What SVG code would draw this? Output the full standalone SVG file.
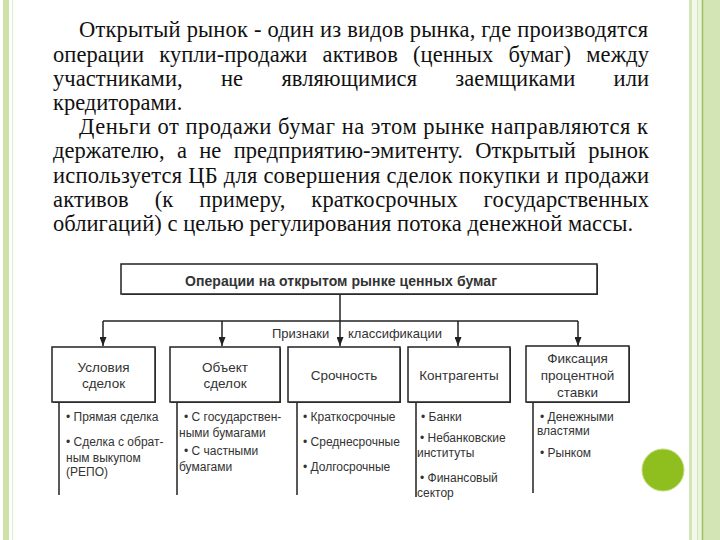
<svg xmlns="http://www.w3.org/2000/svg" width="720" height="540" viewBox="0 0 720 540">
<style>
.p{font-family:"Liberation Serif","Times New Roman",serif;font-size:22.5px;fill:#111}
.box{fill:#fff;stroke:#222;stroke-width:1.5}
.sh{fill:#444}
.t{font-family:"Liberation Sans",Arial,sans-serif;fill:#333}
.hd{font-size:13.5px;text-anchor:middle}
.li{font-size:12px}
.ln{stroke:#222;stroke-width:1.5;fill:none}
</style>
<defs>
<marker id="ar" viewBox="0 0 9 7" refX="9" refY="3.5" markerWidth="9" markerHeight="7" markerUnits="userSpaceOnUse" orient="auto">
<path d="M0,0 L9,3.5 L0,7 z" fill="#222"/>
</marker>
</defs>
<rect width="720" height="540" fill="#fff"/>
<g id="frame">
<rect x="3" y="0" width="6" height="540" fill="#cfe0a8"/>
<rect x="12" y="0" width="1.2" height="540" fill="#e3eed6"/>
<rect x="689" y="0" width="31" height="540" fill="#d3e5b4"/>
<rect x="692" y="0" width="5" height="540" fill="#f1f8ea"/>
<rect x="698" y="0" width="3" height="540" fill="#eaf4df"/>
<rect x="702" y="0" width="1.3" height="540" fill="#a3c266"/>
<circle cx="663" cy="470" r="21" fill="#8fbf1f" stroke="#c2dc7a" stroke-width="1"/>
</g>
<g id="paragraph">
<text class="p" x="79" y="37" textLength="569" lengthAdjust="spacing">Открытый рынок - один из видов рынка, где производятся</text>
<text class="p" x="53" y="62" word-spacing="9.5" textLength="596" lengthAdjust="spacing">операции купли-продажи активов (ценных бумаг) между</text>
<text class="p" x="53" y="86" word-spacing="32.6" textLength="596" lengthAdjust="spacing">участниками, не являющимися заемщиками или</text>
<text class="p" x="53" y="110">кредиторами.</text>
<text class="p" x="79" y="134" textLength="569" lengthAdjust="spacing">Деньги от продажи бумаг на этом рынке направляются к</text>
<text class="p" x="53" y="158" word-spacing="6.6" textLength="596" lengthAdjust="spacing">держателю, а не предприятию-эмитенту. Открытый рынок</text>
<text class="p" x="53" y="183" textLength="596" lengthAdjust="spacing">используется ЦБ для совершения сделок покупки и продажи</text>
<text class="p" x="53" y="207" word-spacing="20.1" textLength="596" lengthAdjust="spacing">активов (к примеру, краткосрочных государственных</text>
<text class="p" x="53" y="231" textLength="580" lengthAdjust="spacing">облигаций) с целью регулирования потока денежной массы.</text>
</g>
<g id="connectors">
<path class="ln" d="M340,295 V346" marker-end="url(#ar)"/>
<path class="ln" d="M103,321 H578"/>
<path class="ln" d="M103,321 V346" marker-end="url(#ar)"/>
<path class="ln" d="M222,321 V346" marker-end="url(#ar)"/>
<path class="ln" d="M458,321 V346" marker-end="url(#ar)"/>
<path class="ln" d="M578,321 V346" marker-end="url(#ar)"/>
<path class="ln" d="M59,403 V495 M177,403 V495 M297,403 V495 M416,403 V497 M533,403 V493"/>
</g>
<g id="root">
<rect class="sh" x="122" y="265" width="476" height="30"/>
<rect class="box" x="121" y="264" width="476" height="30"/>
<text class="t" x="341" y="286" font-size="14" font-weight="bold" text-anchor="middle" fill="#222" textLength="312" lengthAdjust="spacing">Операции на открытом рынке ценных бумаг</text>
</g>
<g id="label">
<text class="t" x="272" y="338" font-size="13">Признаки</text>
<text class="t" x="348" y="338" font-size="13">классификации</text>
</g>
<g id="n1">
<rect class="sh" x="53" y="348" width="103" height="55"/>
<rect class="box" x="52" y="347" width="103" height="55"/>
<text class="t hd" x="103.5" y="372">Условия</text>
<text class="t hd" x="103.5" y="388">сделок</text>
<text class="t li" x="66" y="421">• Прямая сделка</text>
<text class="t li" x="66" y="446">• Сделка с обрат-</text>
<text class="t li" x="66" y="462">ным выкупом</text>
<text class="t li" x="66" y="476">(РЕПО)</text>
</g>
<g id="n2">
<rect class="sh" x="171" y="348" width="110" height="55"/>
<rect class="box" x="170" y="347" width="110" height="55"/>
<text class="t hd" x="225" y="372">Объект</text>
<text class="t hd" x="225" y="388">сделок</text>
<text class="t li" x="184" y="421">• С государствен-</text>
<text class="t li" x="179" y="437">ными бумагами</text>
<text class="t li" x="184" y="455">• С частными</text>
<text class="t li" x="179" y="471">бумагами</text>
</g>
<g id="n3">
<rect class="sh" x="289" y="348" width="112" height="55"/>
<rect class="box" x="288" y="347" width="112" height="55"/>
<text class="t hd" x="344" y="380">Срочность</text>
<text class="t li" x="303" y="421">• Краткосрочные</text>
<text class="t li" x="303" y="446">• Среднесрочные</text>
<text class="t li" x="303" y="471">• Долгосрочные</text>
</g>
<g id="n4">
<rect class="sh" x="409" y="348" width="102" height="55"/>
<rect class="box" x="408" y="347" width="102" height="55"/>
<text class="t hd" x="459" y="380">Контрагенты</text>
<text class="t li" x="421" y="421">• Банки</text>
<text class="t li" x="420" y="442">• Небанковские</text>
<text class="t li" x="417" y="457">институты</text>
<text class="t li" x="420" y="482">• Финансовый</text>
<text class="t li" x="417" y="497">сектор</text>
</g>
<g id="n5">
<rect class="sh" x="527" y="347" width="103" height="56"/>
<rect class="box" x="526" y="346" width="103" height="56"/>
<text class="t hd" x="577.5" y="363">Фиксация</text>
<text class="t hd" x="577.5" y="380">процентной</text>
<text class="t hd" x="577.5" y="397">ставки</text>
<text class="t li" x="540" y="421">• Денежными</text>
<text class="t li" x="537" y="435">властями</text>
<text class="t li" x="540" y="457">• Рынком</text>
</g>
</svg>
